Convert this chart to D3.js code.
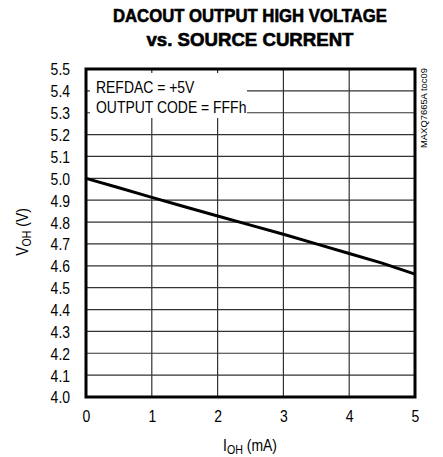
<!DOCTYPE html>
<html>
<head>
<meta charset="utf-8">
<script src="https://cdn.jsdelivr.net/npm/d3@7"></script>
<style>
html,body{margin:0;padding:0;background:#fff;}
svg{display:block;}
text{font-family:"Liberation Sans Narrow","Arial Narrow","Liberation Sans",sans-serif;fill:#000;}
</style>
</head>
<body>
<svg id="chart" width="443" height="457"></svg>
<script>
const titleLines = ["DACOUT OUTPUT HIGH VOLTAGE", "vs. SOURCE CURRENT"];
const xTicks = [0, 1, 2, 3, 4, 5];
const yTicks = [4.0, 4.1, 4.2, 4.3, 4.4, 4.5, 4.6, 4.7, 4.8, 4.9, 5.0, 5.1, 5.2, 5.3, 5.4, 5.5];
const iohValues = [0, 0.5, 1, 1.5, 2, 2.5, 3, 3.5, 4, 4.5, 5];
const vohValues = [5.000, 4.957, 4.913, 4.870, 4.828, 4.786, 4.744, 4.700, 4.656, 4.612, 4.562];
const legendLines = ["REFDAC = +5V", "OUTPUT CODE = FFFh"];
const watermark = "MAXQ7665A toc09";

const svg = d3.select("#chart");
const L = 86, R = 415, T = 69, B = 397;
const x = d3.scaleLinear().domain([0, 5]).range([L, R]);
const y = d3.scaleLinear().domain([4.0, 5.5]).range([B, T]);
const NARROW = 0.82;
function narrow(sel) {
  sel.each(function () {
    const w = this.getComputedTextLength();
    d3.select(this).attr("textLength", w * NARROW).attr("lengthAdjust", "spacingAndGlyphs");
  });
}

// title
const tW = [274, 207];
titleLines.forEach((t, i) => {
  svg.append("text").attr("x", 250).attr("y", 22 + i * 24)
    .attr("text-anchor", "middle").attr("font-size", 18).attr("font-weight", "bold")
    .attr("stroke", "#000").attr("stroke-width", 0.6)
    .attr("textLength", tW[i]).attr("lengthAdjust", "spacingAndGlyphs")
    .text(t);
});

// grid
const g = svg.append("g");
g.selectAll(".hg").data(yTicks.filter(v => v > 4.0 && v < 5.5)).enter().append("line")
  .attr("x1", L).attr("x2", R).attr("y1", d => y(d)).attr("y2", d => y(d))
  .attr("stroke", "#333").attr("stroke-width", 1.2);
g.selectAll(".vg").data(xTicks.filter(v => v > 0 && v < 5)).enter().append("line")
  .attr("x1", d => x(d)).attr("x2", d => x(d)).attr("y1", T).attr("y2", B)
  .attr("stroke", "#333").attr("stroke-width", 1.2);

// legend box (white, masking grid)
svg.append("rect").attr("x", 90).attr("y", 73).attr("width", 157).attr("height", 45).attr("fill", "#fff");
legendLines.forEach((t, i) => {
  const tx = svg.append("text").attr("x", 96).attr("y", 93 + i * 20).attr("font-size", 17).text(t);
  narrow(tx);
});

// data line
svg.append("path").datum(iohValues.map((v, i) => [v, vohValues[i]]))
  .attr("d", d3.line().x(d => x(d[0])).y(d => y(d[1])))
  .attr("fill", "none").attr("stroke", "#000").attr("stroke-width", 3);

// frame
svg.append("rect").attr("x", L).attr("y", T).attr("width", R - L).attr("height", B - T)
  .attr("fill", "none").attr("stroke", "#000").attr("stroke-width", 3);

// axes
const yAxis = svg.append("g").attr("transform", `translate(${L - 16},0)`)
  .call(d3.axisLeft(y).tickValues(yTicks).tickSize(0).tickFormat(d3.format(".1f")));
yAxis.select(".domain").remove();
yAxis.selectAll("text").attr("font-size", 17).attr("font-family", null).attr("dy", "0.35em").attr("x", 0);

const xAxis = svg.append("g").attr("transform", `translate(0,${B + 13})`)
  .call(d3.axisBottom(x).tickValues(xTicks).tickSize(0).tickFormat(d3.format("d")));
xAxis.select(".domain").remove();
xAxis.selectAll("text").attr("font-size", 17).attr("font-family", null).attr("dy", "0.71em").attr("y", 0);
svg.selectAll(".tick text").attr("fill", "#000");
narrow(svg.selectAll(".tick text"));

// axis titles
const xt = svg.append("text").attr("transform", `translate(250,451) scale(${NARROW},1)`).attr("text-anchor", "middle").attr("font-size", 17);
xt.append("tspan").text("I");
xt.append("tspan").attr("font-size", 13).attr("dy", 3).text("OH");
xt.append("tspan").attr("dy", -3).text(" (mA)");

const yt = svg.append("text").attr("transform", `translate(28,232) rotate(-90) scale(${NARROW},1)`).attr("text-anchor", "middle").attr("font-size", 17);
yt.append("tspan").text("V");
yt.append("tspan").attr("font-size", 13).attr("dy", 3).text("OH");
yt.append("tspan").attr("dy", -3).text(" (V)");

// watermark
svg.append("text").attr("transform", "translate(427,68) rotate(-90)").attr("text-anchor", "end")
  .attr("font-size", 9).attr("textLength", 80).attr("lengthAdjust", "spacingAndGlyphs").text(watermark);
</script>
</body>
</html>
